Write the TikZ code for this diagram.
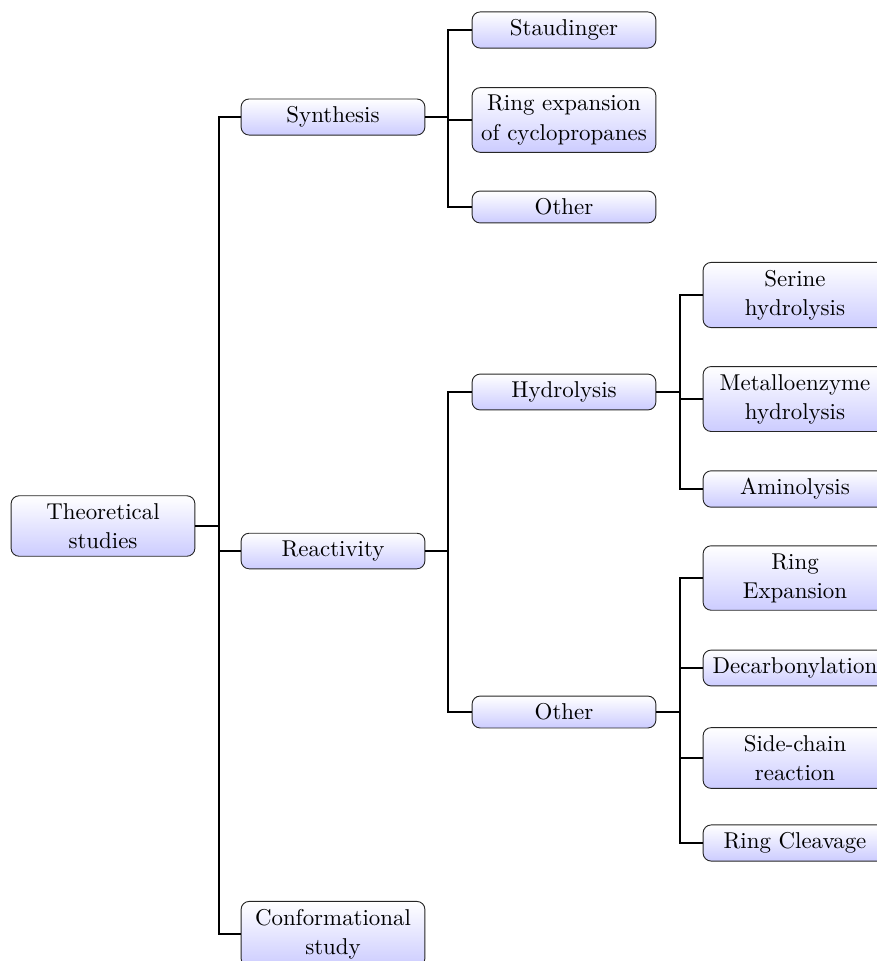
\documentclass[tikz,border=0pt]{standalone}
\begin{document}
\begin{tikzpicture}[x=0.4367pt,y=-0.4367pt,
  box/.style={draw=black!85, rounded corners=3.5pt, top color=white, bottom color=blue!20,
    text width=73.6pt, align=center, inner sep=3.33pt, font=\fontsize{10}{12.7}\selectfont},
  conn/.style={draw=black, line width=0.55pt}]
\useasboundingbox (0,0) rectangle (877,961);
\clip (0,0) rectangle (877,961);
% level 0
\node[box] (theo) at (103,526) {Theoretical\\studies};
% level 1
\node[box] (syn) at (333,117) {Synthesis};
\node[box] (rea) at (333,551) {Reactivity};
\node[box] (conf) at (333,934) {Conformational\\study};
% level 2 synthesis
\node[box] (stau) at (564,30) {Staudinger};
\node[box] (ringexp) at (564,120) {Ring expansion\\of cyclopropanes};
\node[box] (oths) at (564,207) {Other};
% level 2 reactivity
\node[box] (hyd) at (564,392) {Hydrolysis};
\node[box] (othr) at (564,712) {Other};
% level 3 hydrolysis
\node[box] (ser) at (795,295) {Serine\\hydrolysis};
\node[box] (met) at (795,399) {Metalloenzyme\\hydrolysis};
\node[box] (ami) at (795,489) {Aminolysis};
% level 3 other
\node[box] (rex) at (795,578) {Ring\\Expansion};
\node[box] (dec) at (795,668) {Decarbonylation};
\node[box] (side) at (795,758) {Side-chain\\reaction};
\node[box] (clv) at (795,843) {Ring Cleavage};
% bus coordinates
\coordinate (b0) at (219,526);
\coordinate (b1) at (448,117);
\coordinate (b2) at (448,551);
\coordinate (b3) at (680,392);
\coordinate (b4) at (680,712);
% connectors
\foreach \c in {syn,rea,conf} \draw[conn] (theo.east) -- (b0) |- (\c.west);
\foreach \c in {stau,ringexp,oths} \draw[conn] (syn.east) -- (b1) |- (\c.west);
\foreach \c in {hyd,othr} \draw[conn] (rea.east) -- (b2) |- (\c.west);
\foreach \c in {ser,met,ami} \draw[conn] (hyd.east) -- (b3) |- (\c.west);
\foreach \c in {rex,dec,side,clv} \draw[conn] (othr.east) -- (b4) |- (\c.west);
\end{tikzpicture}
\end{document}
